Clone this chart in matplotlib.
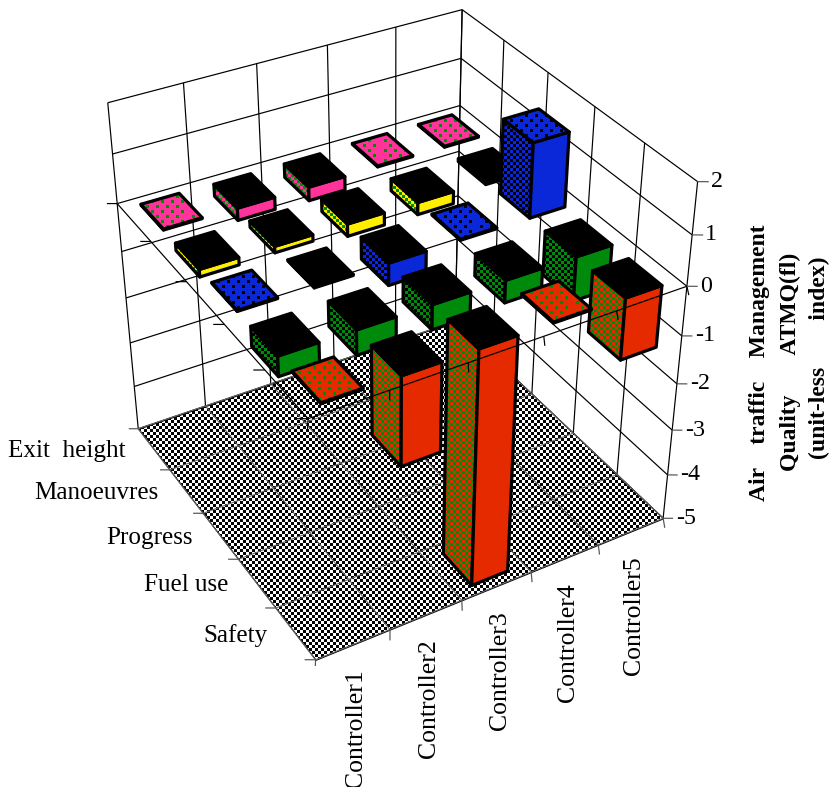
import matplotlib
matplotlib.use('Agg')
import matplotlib.pyplot as plt
from matplotlib import hatch as mhatch
from matplotlib.path import Path
from mpl_toolkits.mplot3d import proj3d
from mpl_toolkits.mplot3d.art3d import Poly3DCollection

controllers = ['Controller1', 'Controller2', 'Controller3', 'Controller4', 'Controller5']
criteria = ['Safety', 'Fuel use', 'Progress', 'Manoeuvres', 'Exit  height']
z_ticks = [2, 1, 0, -1, -2, -3, -4, -5]

safety = [0.02, -1.8, -5.0, 0.02, -1.25]
fuel_use = [-0.4, -0.5, -0.5, -0.45, -0.9]
progress = [0.02, -0.02, -0.45, 0.02, 1.5]
manoeuvres = [-0.15, -0.13, -0.25, -0.25, -0.06]
exit_height = [0.02, -0.25, -0.28, 0.02, 0.02]
values = [safety, fuel_use, progress, manoeuvres, exit_height]

# face colour, colour of the pattern on the left side and on a flat top
colours = ['#e62a00', '#008a0c', '#0a28d8', '#ffee00', '#ff3399']
side_dots = ['#008a0c', '#000000', '#000000', '#008a0c', '#008a0c']
clear = (0, 0, 0, 0)


# excel style square patterns, built in hatches can't do this
# cell positions are in pixels of the 96 px hatch tile
class SquareHatch(mhatch.HatchPatternBase):
    def __init__(self, pattern, density):
        self.size = 3
        self.cells = []
        if '*' in pattern:
            self.cells = [(3 * i, 3 * j) for i in range(32) for j in range(32) if (i + j) % 2 == 0]
        elif '.' in pattern:
            for row in range(0, 95, 5):
                shift = 5 * (row // 5 % 2)
                self.cells += [(col + shift, row) for col in range(0, 90, 10)]
        self.num_vertices = 5 * len(self.cells)

    def set_vertices_and_codes(self, vertices, codes):
        s = self.size
        for k, (x, y) in enumerate(self.cells):
            square = [(x, y), (x + s, y), (x + s, y + s), (x, y + s), (x, y)]
            vertices[5 * k:5 * k + 5] = [(a / 96, b / 96) for a, b in square]
            codes[5 * k:5 * k + 5] = [Path.MOVETO, Path.LINETO, Path.LINETO, Path.LINETO, Path.CLOSEPOLY]


mhatch._hatch_types[:] = [SquareHatch]

plt.rcParams['font.family'] = ['Liberation Serif', 'DejaVu Serif']
plt.rcParams['hatch.linewidth'] = 0

fig = plt.figure(figsize=(830 / 96, 787 / 96), dpi=96)
ax = fig.add_axes([0.0522, 0.1539, 0.8205, 0.8653], projection='3d')
ax.set_xlim(0, 5, view_margin=0)
ax.set_ylim(0, 5, view_margin=0)
ax.set_zlim(-5, 2, view_margin=0)
ax.view_init(34.8857, -120.1374, 0)
ax.set_proj_type('persp', focal_length=0.5376)
ax.set_box_aspect((1, 1.0047, 0.9931))
ax.set_axis_off()
ax.computed_zorder = False


def line(xs, ys, zs, color='black', lw=0.9, z=1):
    ax.plot(xs, ys, zs, color=color, lw=lw, zorder=z, solid_capstyle='butt')


# walls
for t in z_ticks:
    line([0, 5], [5, 5], [t, t])
    line([5, 5], [5, 0], [t, t])
for i in range(6):
    line([i, i], [5, 5], [-5, 2])
    line([5, 5], [i, i], [-5, 2])

# floor
floor = [[(0, 0, -5), (5, 0, -5), (5, 5, -5), (0, 5, -5)]]
ax.add_collection3d(Poly3DCollection(floor, facecolor='white', edgecolor='black', linewidth=0, hatch='*', zorder=2))
ax.add_collection3d(Poly3DCollection(floor, facecolor=clear, edgecolor='black', linewidth=0.9, zorder=3))
for i in range(6):
    line([i, i], [0, 5], [-5, -5], color='#666666', lw=0.8, z=3)
    line([0, 5], [i, i], [-5, -5], color='#666666', lw=0.8, z=3)

width_x = 0.52
width_y = 0.66
order = 4


def face(verts, colour, dots=None, pattern=None):
    global order
    ax.add_collection3d(Poly3DCollection([verts], facecolor=colour, edgecolor=dots if dots else colour,
                                         linewidth=0, hatch=pattern, zorder=order))
    ax.add_collection3d(Poly3DCollection([verts], facecolor=clear, edgecolor='black', linewidth=2.4,
                                         zorder=order + 0.5))
    order += 1


# painter's order, far bars first
for j in range(4, -1, -1):
    for i in range(4, -1, -1):
        v = values[j][i]
        xa, xb = i + 0.5 - width_x / 2, i + 0.5 + width_x / 2
        ya, yb = j + 0.5 - width_y / 2, j + 0.5 + width_y / 2
        za, zb = min(v, 0), max(v, 0)
        face([(xa, ya, za), (xa, yb, za), (xa, yb, zb), (xa, ya, zb)], colours[j], side_dots[j], '*')
        face([(xa, ya, za), (xb, ya, za), (xb, ya, zb), (xa, ya, zb)], colours[j])
        top_face = [(xa, ya, zb), (xb, ya, zb), (xb, yb, zb), (xa, yb, zb)]
        if v < 0:
            face(top_face, 'black')
        else:
            face(top_face, colours[j], side_dots[j], '.')

# zero plane axes go over the bars, tick marks run straight down / left on screen
line([0, 5], [0, 0], [0, 0], z=500)
line([0, 0], [0, 5], [0, 0], z=500)
for i in range(6):
    line([i, i - 0.092], [0, -0.158], [0, 0], z=500)
    line([-0.11, 0], [i + 0.064, i], [0, 0], z=500)
    line([i, i - 0.092], [0, -0.158], [-5, -5], color='#555555', z=500)
    line([-0.11, 0], [i + 0.064, i], [-5, -5], color='#555555', z=500)
for t in z_ticks:
    line([5, 5.108], [0, -0.064], [t, t], color='#555555', z=500)


def label(x, y, z, name, dx, dy, **kw):
    # offset is in pixels from the projected point
    u, v, _ = proj3d.proj_transform(x, y, z, ax.get_proj())
    ax.annotate(name, (u, v), xytext=(dx * 0.75, -dy * 0.75), textcoords='offset points',
                annotation_clip=False, zorder=600, **kw)


for t in z_ticks:
    label(5, 0, t, str(t), 13, 0, ha='left', va='center', fontsize=18)
for i, name in enumerate(controllers):
    label(i + 0.5, 0, -5, name, 3, 25, rotation=90, ha='center', va='top', fontsize=19.3)
for j, name in enumerate(criteria):
    label(0, j + 0.5, -5, name, -28, 2, ha='right', va='center', fontsize=18.8)

fig.text(760 / 830, 1 - 363 / 787, 'Air    traffic    Management', rotation=90, ha='center', va='center',
         fontsize=17.7, fontweight='bold')
fig.text(790 / 830, 1 - 362 / 787, 'Quality       ATMQ(fl)', rotation=90, ha='center', va='center',
         fontsize=17.7, fontweight='bold')
fig.text(819 / 830, 1 - 358 / 787, '(unit-less        index)', rotation=90, ha='center', va='center',
         fontsize=17.7, fontweight='bold')

fig.savefig('out.png', dpi=96)
